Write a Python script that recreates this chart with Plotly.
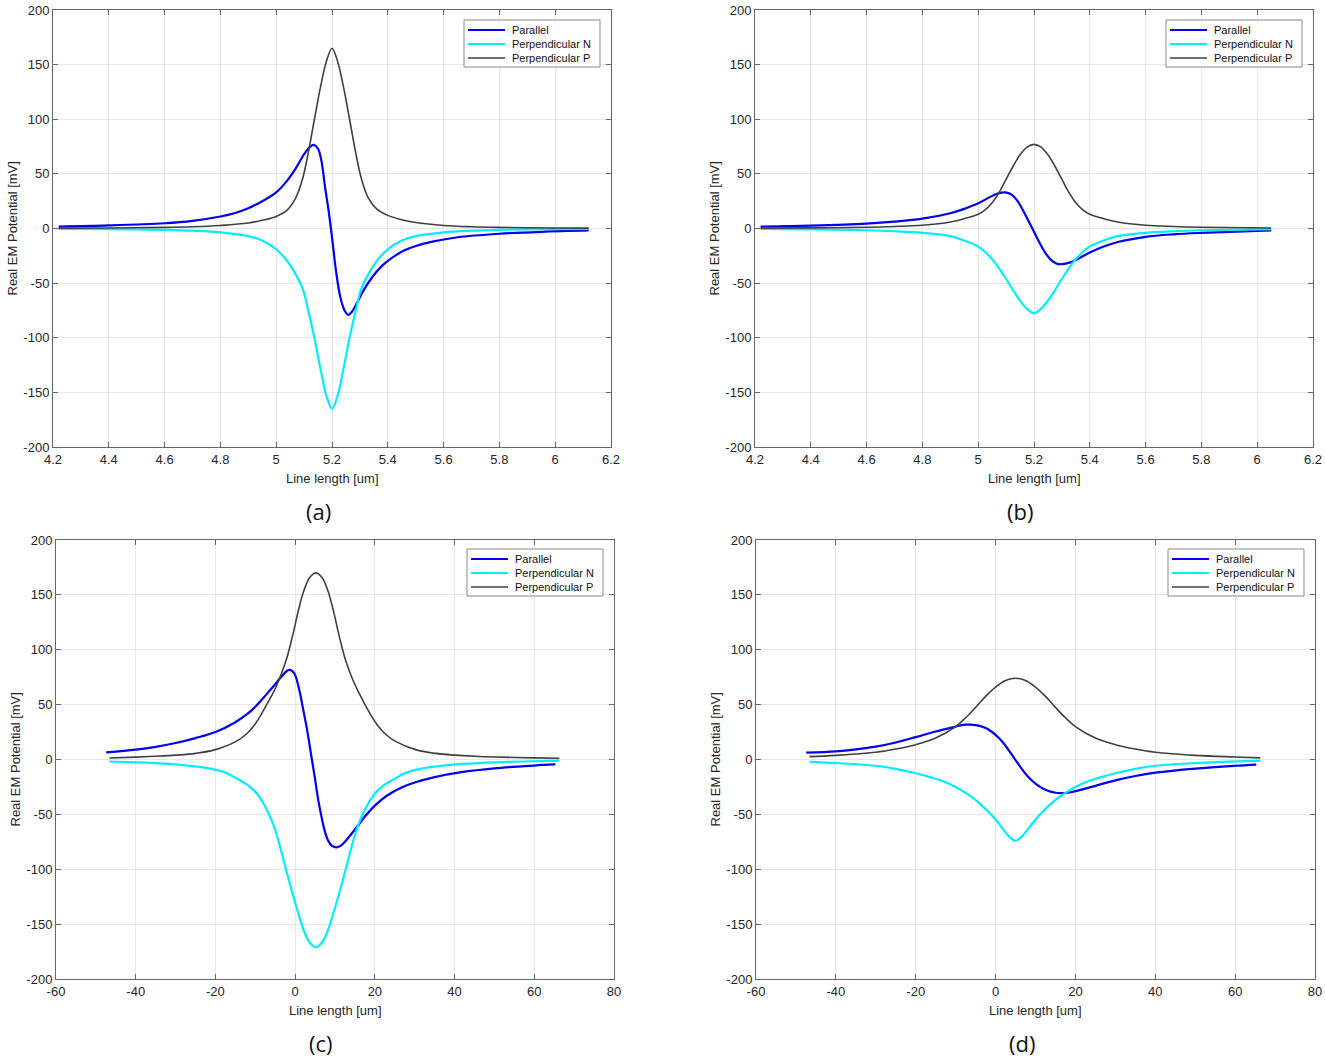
import plotly.graph_objects as go

# ---- data ----
# (a) and (b): line length in um, 4.2 .. 6.2
a_par_x = [4.22, 4.4, 4.6, 4.7, 4.8, 4.85, 4.9, 4.95, 5.0, 5.04, 5.07, 5.1, 5.12, 5.135, 5.15,
           5.162, 5.175, 5.188, 5.2, 5.215, 5.23, 5.245, 5.258, 5.272, 5.29, 5.31, 5.34,
           5.38, 5.42, 5.46, 5.5, 5.56, 5.65, 5.8, 5.95, 6.12]
a_par_y = [1.8, 2.8, 4.8, 7, 11, 14, 18.5, 25, 33, 44, 55, 68, 74.5, 76.5, 73,
           62, 38, 16, -8, -40, -63, -75, -79, -76, -68, -58, -46,
           -34, -26, -20, -16, -12, -8, -4.8, -3, -1.8]
a_pn_x = [4.22, 4.4, 4.6, 4.7, 4.8, 4.9, 4.95, 5.0, 5.04, 5.07, 5.096, 5.115, 5.137, 5.16,
          5.18, 5.2, 5.22, 5.24, 5.263, 5.285, 5.304, 5.33, 5.36, 5.4, 5.45, 5.5, 5.6,
          5.7, 5.8, 6.0, 6.12]
a_pn_y = [-0.3, -0.6, -1.2, -2, -3.5, -7, -11, -19, -30, -42, -56, -75, -100, -130,
          -153, -165, -153, -130, -100, -75, -56, -42, -30, -19, -11, -7, -3.5,
          -2, -1.2, -0.6, -0.3]
a_pp_x = [4.22, 4.4, 4.6, 4.7, 4.8, 4.9, 4.95, 5.0, 5.04, 5.07, 5.094, 5.114, 5.137, 5.16,
          5.18, 5.2, 5.22, 5.24, 5.263, 5.286, 5.306, 5.33, 5.36, 5.4, 5.45, 5.5, 5.6,
          5.7, 5.8, 6.0, 6.12]
a_pp_y = [0.3, 0.5, 1.0, 1.6, 2.8, 5, 7.5, 11, 17, 28, 45, 68, 100, 131,
          153, 165, 153, 131, 100, 68, 45, 28, 18, 12, 8, 5.5, 2.8,
          1.6, 1.0, 0.5, 0.3]

b_par_x = [4.22, 4.4, 4.6, 4.7, 4.8, 4.9, 4.95, 5.0, 5.04, 5.07, 5.097, 5.12, 5.14, 5.16,
           5.18, 5.2, 5.22, 5.24, 5.26, 5.28, 5.3, 5.33, 5.367, 5.4, 5.45, 5.5, 5.6, 5.7,
           5.8, 6.05]
b_par_y = [1.8, 2.7, 4.5, 6.3, 9, 14, 18, 23, 28.5, 32, 33, 31, 25.5, 17,
           7, -3, -13, -22, -28.5, -32, -32.7, -31, -26.5, -22, -16.5, -12.4, -7.6, -5.3,
           -4, -1.8]
b_pn_x = [4.22, 4.4, 4.6, 4.7, 4.8, 4.9, 4.95, 5.0, 5.025, 5.05, 5.075, 5.1, 5.125, 5.15,
          5.175, 5.2, 5.225, 5.25, 5.275, 5.3, 5.325, 5.35, 5.375, 5.4, 5.45, 5.5, 5.6,
          5.7, 5.8, 6.05]
b_pn_y = [-0.4, -0.8, -1.6, -2.5, -4, -7, -11, -16.5, -21.5, -28, -36.5, -46, -56.5, -66,
          -73.5, -77.5, -73.5, -66, -56.5, -46, -36.5, -28, -21.5, -16.5, -11, -7, -4,
          -2.5, -1.6, -0.5]
b_pp_x = [4.22, 4.4, 4.6, 4.7, 4.8, 4.9, 4.95, 5.0, 5.025, 5.05, 5.075, 5.1, 5.125, 5.15,
          5.175, 5.2, 5.225, 5.25, 5.275, 5.3, 5.325, 5.35, 5.375, 5.4, 5.45, 5.5, 5.6,
          5.7, 5.8, 6.05]
b_pp_y = [0.3, 0.6, 1.1, 1.8, 3, 6, 9, 13, 17, 23.5, 33, 45, 57, 67.5,
          74.5, 77, 74.5, 67.5, 57, 45, 33, 23.5, 17, 13, 9, 6, 3,
          1.8, 1.1, 0.4]

# (c) and (d): line length in um, -60 .. 80
c_par_x = [-47.4, -40, -35, -30, -25, -20, -15, -12, -10, -8, -6.7, -5, -3.8, -2.7, -1.7,
           -0.7, 0, 0.6, 1.26, 2, 2.9, 3.5, 4.2, 5, 5.8, 6.6, 7.5, 8.3, 9.2, 10.4, 11.5,
           12.5, 13.5, 15.4, 17.5, 20, 23, 26.7, 30, 35, 41.7, 50, 60, 65.3]
c_par_y = [6.5, 9, 11.5, 15, 19.5, 25, 34, 41.5, 48, 56, 61.5, 68.5, 74, 78.5, 81.5,
           80.5, 77, 70, 60, 46, 29, 16, 0, -18, -37, -52, -66, -74, -78.5, -80, -78.5,
           -75, -70.5, -62, -52, -42, -33, -25.5, -21, -16, -11.5, -8, -5.5, -4.5]
c_pn_x = [-46.6, -40, -32.8, -26.8, -21.8, -17.8, -14.8, -11.8, -9.6, -7.8, -6.3, -5, -3.6,
          -2.3, -0.8, 0.7, 2.2, 3.7, 5.2, 6.7, 8.2, 9.7, 11.2, 12.7, 14, 15.4, 16.7, 18.2,
          20, 22.2, 25.2, 28.2, 32.2, 37.2, 43.2, 50.2, 57.2, 66.3]
c_pn_y = [-1.8, -2.6, -3.8, -5.5, -8, -11.5, -17, -23.5, -31, -41, -52, -64, -82,
          -100, -120, -139, -156, -167, -171, -167, -156, -139, -120, -100, -82, -64, -52, -41,
          -31, -23.5, -17, -11.5, -8, -5.5, -3.8, -2.6, -1.8, -1.1]
c_pp_x = [-46.6, -40, -35, -30, -25, -20, -14.8, -12.3, -10.2, -8.6, -7, -5.2, -3.8, -2.3,
          -1.3, -0.3, 0.7, 2.2, 3.7, 5.2, 6.7, 8.2, 9.7, 10.7, 11.7, 12.7, 14.2, 15.7,
          17.4, 19, 20.6, 22.7, 25.2, 30.2, 35.2, 40.2, 45, 50, 60, 66.3]
c_pp_y = [1.4, 2.2, 3, 4, 5.6, 9, 16.5, 23, 31.5, 40.5, 51, 63, 75, 90,
          103, 118, 134, 154, 166, 170, 166, 154, 134, 118, 103, 90, 75, 63,
          51, 40.5, 31.5, 23, 16.5, 9, 5.6, 4, 3, 2.3, 1.5, 1.1]

d_par_x = [-47.4, -40, -35, -30, -25, -20, -15, -10, -8.75, -7.5, -6.25, -5, -3.75, -2.5,
           -1.25, 0, 1.25, 2.5, 3.75, 5, 6.25, 7.5, 8.75, 10, 11.25, 12.5, 13.75, 15, 16.25,
           17.5, 18.75, 20, 22.5, 25, 30, 35, 40, 50, 60, 65.3]
d_par_y = [6.2, 7.4, 9.2, 11.7, 15.5, 20.4, 25.5, 30, 31.1, 31.7, 31.8, 31.4, 30.4, 28.6,
           26, 22.5, 18, 12.5, 6, -0.5, -7, -13, -18, -22, -25.2, -27.6, -29.3, -30.3, -30.7,
           -30.5, -29.8, -28.8, -26.5, -24, -19, -15, -12, -8.3, -5.7, -4.6]
d_pn_x = [-46.6, -40, -35, -30, -25, -20, -16, -13, -10, -7, -5.5, -4, -2.5, -1, 0.5, 2,
          3.5, 5, 6.5, 8, 9.5, 11, 12.5, 14, 15.5, 17, 20, 23, 26, 30, 35, 40, 45, 50,
          56.6, 66.3]
d_pn_y = [-2.2, -3.3, -4.3, -5.7, -8.5, -12.5, -16.5, -20, -25, -31.5, -35.5, -40, -45,
          -50.5, -57, -64, -70.5, -74, -70.5, -64, -57, -50.5, -45, -40, -35.5, -31.5,
          -25, -20, -16.5, -12.5, -8.5, -5.7, -4.3, -3.3, -2.2, -1.3]
d_pp_x = [-46.6, -40, -30, -25, -20, -15, -10, -7.5, -5, -2.5, 0, 2.5, 5, 7.5, 10, 12.5,
          15, 17.5, 20, 25, 30, 35, 40, 50, 60, 66.3]
d_pp_y = [2.6, 3.8, 6.6, 9.5, 13.5, 19.5, 30, 38, 47.5, 57.5, 66, 72, 74, 72, 66, 57.5,
          47.5, 38, 30, 19.5, 13.5, 9.5, 6.6, 3.8, 2.3, 1.5]

series_names = ["Parallel", "Perpendicular N", "Perpendicular P"]
panel_labels = ["(a)", "(b)", "(c)", "(d)"]

ab_ticks = [4.2, 4.4, 4.6, 4.8, 5.0, 5.2, 5.4, 5.6, 5.8, 6.0, 6.2]
ab_ticktext = ["4.2", "4.4", "4.6", "4.8", "5", "5.2", "5.4", "5.6", "5.8", "6", "6.2"]
cd_ticks = [-60, -40, -20, 0, 20, 40, 60, 80]
cd_ticktext = ["-60", "-40", "-20", "0", "20", "40", "60", "80"]
y_ticks = [-200, -150, -100, -50, 0, 50, 100, 150, 200]
y_ticktext = ["-200", "-150", "-100", "-50", "0", "50", "100", "150", "200"]

panels = [
    [(a_par_x, a_par_y), (a_pn_x, a_pn_y), (a_pp_x, a_pp_y)],
    [(b_par_x, b_par_y), (b_pn_x, b_pn_y), (b_pp_x, b_pp_y)],
    [(c_par_x, c_par_y), (c_pn_x, c_pn_y), (c_pp_x, c_pp_y)],
    [(d_par_x, d_par_y), (d_pn_x, d_pn_y), (d_pp_x, d_pp_y)],
]

# ---- layout geometry (pixels of the 1325x1061 page) ----
W, H = 1325, 1061
boxes = [  # left, right, top, bottom
    (53, 611, 10, 447),
    (755, 1313, 10, 447),
    (56, 614, 540, 979),
    (756, 1315, 540, 979),
]
legend_shift = [(0, 0), (702, 0), (3, 529), (704, 529)]
colors = ["#0000f0", "#00ecff", "#404040"]
widths = [2.2, 2.2, 1.6]
axis_col = "#666666"
grid_col = "#e6e6e6"
font_main = "Liberation Sans, Arial, sans-serif"


def px(x):
    return x / W


def py(y):
    return 1 - y / H


fig = go.Figure()
annotations = []
shapes = []
for i, data in enumerate(panels):
    ax = "" if i == 0 else str(i + 1)
    for j, (xs, ys) in enumerate(data):
        fig.add_trace(go.Scatter(
            x=xs, y=ys, mode="lines", name=series_names[j], showlegend=False,
            line=dict(color=colors[j], width=widths[j], shape="spline", smoothing=1.0),
            xaxis="x" + ax, yaxis="y" + ax,
        ))

    l, r, t, b = boxes[i]
    if i < 2:
        xrange, tv, tt = [4.2, 6.2], ab_ticks, ab_ticktext
    else:
        xrange, tv, tt = [-60, 80], cd_ticks, cd_ticktext
    common = dict(showline=True, linecolor=axis_col, linewidth=1, mirror="ticks",
                  ticks="inside", ticklen=5, tickcolor=axis_col, automargin=False,
                  showgrid=True, gridcolor=grid_col, gridwidth=1, zeroline=False,
                  tickfont=dict(family=font_main, size=13, color="#262626"))
    fig.update_layout(**{
        "xaxis" + ax: dict(domain=[px(l), px(r)], range=xrange, tickvals=tv, ticktext=tt,
                           anchor="y" + ax, **common),
        "yaxis" + ax: dict(domain=[py(b), py(t)], range=[-200, 200], tickvals=y_ticks,
                           ticktext=y_ticktext, anchor="x" + ax, **common),
    })

    # legend box drawn in page pixels, like the MATLAB one
    dx, dy = legend_shift[i]
    shapes.append(dict(type="rect", xref="paper", yref="paper",
                       x0=px(464 + dx), x1=px(600 + dx), y0=py(67 + dy), y1=py(20 + dy),
                       line=dict(color="#8a8a8a", width=1), fillcolor="white", layer="above"))
    for j, name in enumerate(series_names):
        yy = 30 + 14 * j + dy
        shapes.append(dict(type="line", xref="paper", yref="paper",
                           x0=px(468 + dx), x1=px(505 + dx), y0=py(yy), y1=py(yy),
                           line=dict(color=colors[j], width=widths[j]), layer="above"))
        annotations.append(dict(text=name, x=px(510 + dx), y=py(yy), xref="paper",
                                yref="paper", xanchor="left", yanchor="middle",
                                showarrow=False,
                                font=dict(family=font_main, size=11, color="#111111")))

    # axis titles and panel labels
    cx = (l + r) / 2
    annotations.append(dict(text="Line length [um]", x=px(cx), y=py(b + 31),
                            xref="paper", yref="paper", xanchor="center",
                            yanchor="middle", showarrow=False,
                            font=dict(family=font_main, size=13, color="#262626")))
    annotations.append(dict(text="Real EM Potential [mV]", x=px(l - 41),
                            y=py((t + b) / 2), xref="paper", yref="paper",
                            xanchor="center", yanchor="middle",
                            showarrow=False, textangle=-90,
                            font=dict(family=font_main, size=13, color="#262626")))
    annotations.append(dict(text=panel_labels[i], x=px(cx - 14), y=py(b + 64),
                            xref="paper", yref="paper", xanchor="center",
                            yanchor="middle", showarrow=False,
                            font=dict(family="Open Sans, sans-serif", size=22,
                                      color="#111111")))

fig.update_layout(
    width=W, height=H,
    margin=dict(l=0, r=0, t=0, b=0, autoexpand=False),
    paper_bgcolor="white", plot_bgcolor="white",
    showlegend=False,
    annotations=annotations,
    shapes=shapes,
)

# drop the default 8px body margin so the figure sits at the page corner
fig.write_html("out.html", config={"displayModeBar": False},
               post_script="document.body.style.margin = '0px';")
